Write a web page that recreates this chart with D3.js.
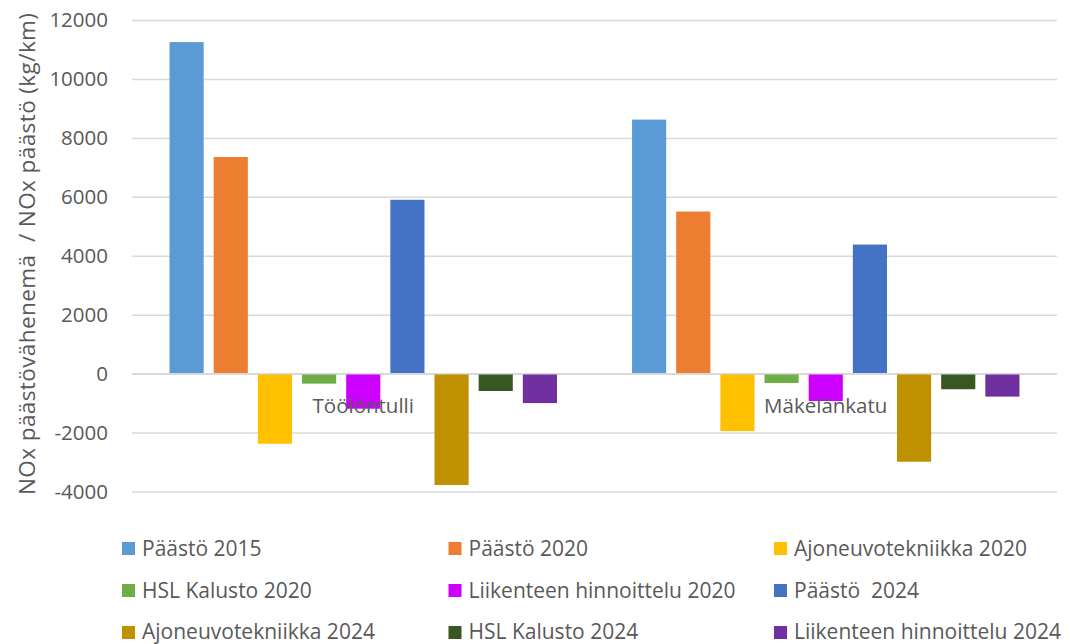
<!DOCTYPE html>
<html>
<head>
<meta charset="utf-8">
<script src="https://cdn.jsdelivr.net/npm/d3@7"></script>
<style>
  html, body { margin: 0; padding: 0; background: #fff; }
  svg { display: block; font-family: "Open Sans", "Noto Sans", sans-serif; }
</style>
</head>
<body>
<svg id="chart" width="1070" height="644"></svg>
<script>
const categories = ["Töölöntulli", "Mäkelänkatu"];
const seriesNames = [
  "Päästö 2015", "Päästö 2020", "Ajoneuvotekniikka 2020",
  "HSL Kalusto 2020", "Liikenteen hinnoittelu 2020", "Päästö  2024",
  "Ajoneuvotekniikka 2024", "HSL Kalusto 2024", "Liikenteen hinnoittelu 2024"
];
const seriesColors = [
  "#5B9BD5", "#ED7D31", "#FFC000",
  "#70AD47", "#CC00FF", "#4472C4",
  "#BF9000", "#385723", "#7030A0"
];
// values per series: [Töölöntulli, Mäkelänkatu]
const paasto2015 = [11250, 8620];
const paasto2020 = [7350, 5500];
const ajoneuvo2020 = [-2380, -1950];
const hsl2020 = [-340, -320];
const liikenne2020 = [-1190, -930];
const paasto2024 = [5900, 4380];
const ajoneuvo2024 = [-3780, -2990];
const hsl2024 = [-590, -530];
const liikenne2024 = [-1000, -780];
const seriesValues = [paasto2015, paasto2020, ajoneuvo2020, hsl2020, liikenne2020,
  paasto2024, ajoneuvo2024, hsl2024, liikenne2024];
const yTicks = [-4000, -2000, 0, 2000, 4000, 6000, 8000, 10000, 12000];
const yTitle = "NOx päästövähenemä  / NOx päästö (kg/km)";

(function () {
const svg = d3.select("#chart");
const textColor = "#595959";
const fontSize = "20.5px";

const mLeft = 132, mRight = 1057, mTop = 20, mBottom = 491.5;
const y = d3.scaleLinear().domain([-4000, 12000]).range([mBottom, mTop]);
const x0 = d3.scaleBand().domain(categories).range([mLeft, mRight]).padding(0);
const x1 = d3.scaleBand().domain(d3.range(seriesNames.length))
  .range([0, x0.bandwidth()]).paddingInner(0.227).paddingOuter(0.85);

// gridlines
const yAxis = d3.axisLeft(y).tickValues(yTicks).tickSize(-(mRight - mLeft)).tickFormat(d => d);
const gAxis = svg.append("g").attr("transform", `translate(${mLeft},0)`).call(yAxis);
gAxis.select(".domain").remove();
gAxis.selectAll(".tick line").attr("stroke", "#d9d9d9").attr("stroke-width", 1.5);
gAxis.selectAll(".tick text")
  .attr("x", -24)
  .attr("fill", textColor)
  .style("font-size", fontSize)
  .style("font-family", '"Open Sans", sans-serif');

// bars
const groups = svg.append("g").selectAll("g")
  .data(categories).join("g")
  .attr("transform", d => `translate(${x0(d)},0)`);
groups.selectAll("rect")
  .data((c, ci) => seriesValues.map((vals, si) => ({ si, v: vals[ci] })))
  .join("rect")
  .attr("x", d => x1(d.si))
  .attr("width", x1.bandwidth())
  .attr("y", d => y(Math.max(0, d.v)))
  .attr("height", d => Math.abs(y(d.v) - y(0)))
  .attr("fill", d => seriesColors[d.si]);

// zero line on top
svg.append("line")
  .attr("x1", mLeft).attr("x2", mRight)
  .attr("y1", y(0)).attr("y2", y(0))
  .attr("stroke", "#d9d9d9").attr("stroke-width", 1.5);

// category labels
svg.append("g").selectAll("text")
  .data(categories).join("text")
  .attr("x", d => x0(d) + x0.bandwidth() / 2)
  .attr("y", y(0) + 39.5)
  .attr("text-anchor", "middle")
  .attr("fill", textColor)
  .style("font-size", fontSize)
  .text(d => d);

// y title
svg.append("text")
  .attr("transform", `translate(35,254) rotate(-90)`)
  .attr("text-anchor", "middle")
  .attr("fill", textColor)
  .attr("textLength", 482)
  .attr("lengthAdjust", "spacing")
  .style("font-size", "22.5px")
  .style("white-space", "pre")
  .text(yTitle);

// legend
const colX = [122, 448.5, 774];
const rowY = [556, 598, 638.5];
const legend = svg.append("g").selectAll("g")
  .data(seriesNames).join("g")
  .attr("transform", (d, i) => `translate(${colX[i % 3]},${rowY[Math.floor(i / 3)]})`);
legend.append("rect")
  .attr("x", 0).attr("y", (d, i) => Math.floor(i / 3) === 2 ? -12.5 : -14)
  .attr("width", 13).attr("height", 13)
  .attr("fill", (d, i) => seriesColors[i]);
legend.append("text")
  .attr("x", 20).attr("y", 0)
  .attr("fill", textColor)
  .style("font-size", "21px")
  .style("white-space", "pre")
  .text(d => d);
})();
</script>
</body>
</html>
